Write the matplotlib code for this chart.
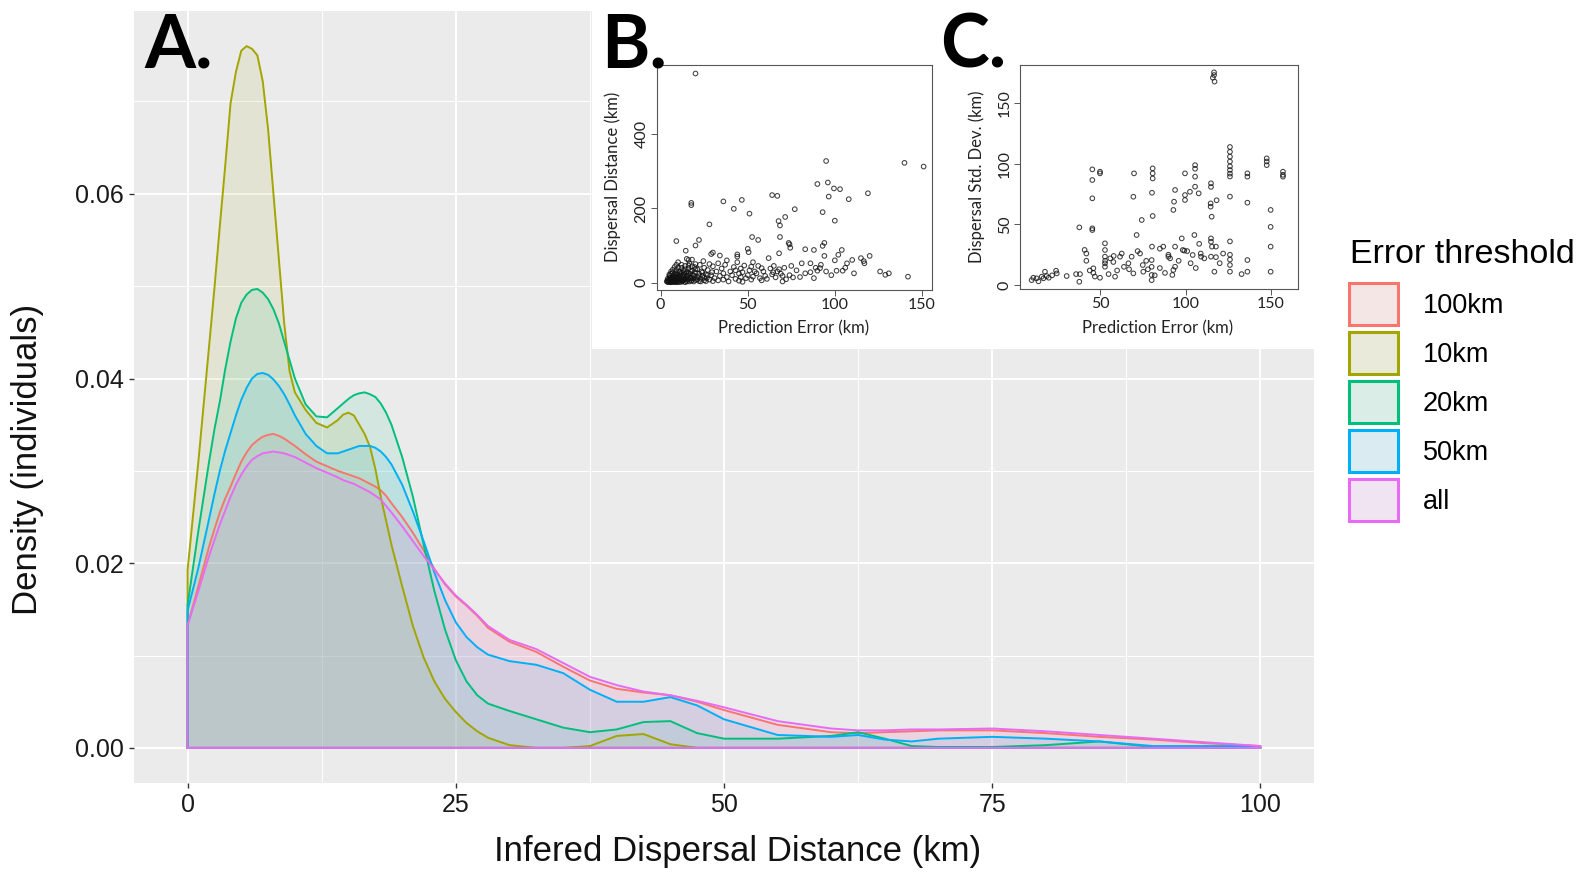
import matplotlib
matplotlib.use("Agg")
import matplotlib.pyplot as plt
import matplotlib.patches as mpatches
from matplotlib.ticker import FixedLocator, FormatStrFormatter

plt.rcParams['font.family'] = ['Liberation Sans', 'DejaVu Sans']

# ---- panel A: density of inferred dispersal distance per error threshold ----
dist_km = [0, 1, 2, 2.5, 3, 3.5, 4, 4.5, 5, 5.5, 6, 6.5, 7, 7.5, 8, 8.5, 9, 9.5,
           10, 11, 12, 13, 14, 14.5, 15, 15.5, 16, 16.5, 17, 17.5, 18, 18.5, 19,
           20, 21, 22, 23, 24, 25, 26, 27, 28, 30, 32.5, 35, 37.5, 40, 42.5, 45,
           47.5, 50, 55, 60, 62.5, 65, 67.5, 70, 75, 80, 85, 90, 95, 100]

dens_100km = [0.0133, 0.0175, 0.0218, 0.0237, 0.0255, 0.0270, 0.0283, 0.0297, 0.0310, 0.0320,
              0.0328, 0.0333, 0.0337, 0.0339, 0.0340, 0.0338, 0.0335, 0.0331,
              0.0327, 0.0318, 0.0310, 0.0305, 0.0300, 0.0298, 0.0296, 0.0294, 0.0292, 0.0289,
              0.0286, 0.0283, 0.0279, 0.0273, 0.0265,
              0.0250, 0.0233, 0.0214, 0.0194, 0.0177, 0.0164, 0.0154, 0.0143, 0.0130, 0.0115,
              0.0104, 0.0088, 0.0073, 0.0064, 0.0060, 0.0057, 0.0050, 0.0041, 0.0025, 0.0017,
              0.0016, 0.0017, 0.0018, 0.0019, 0.0019, 0.0016, 0.0012, 0.0009, 0.0005, 0.0002]
dens_10km = [0.0193, 0.0310, 0.0435, 0.0498, 0.0565, 0.0630, 0.0698, 0.0732, 0.0755, 0.0760,
             0.0757, 0.0750, 0.0722, 0.0670, 0.0600, 0.0530, 0.0460, 0.0408,
             0.0385, 0.0366, 0.0352, 0.0347, 0.0355, 0.0361, 0.0363, 0.0360, 0.0350, 0.0340,
             0.0326, 0.0302, 0.0272, 0.0246, 0.0220,
             0.0175, 0.0132, 0.0098, 0.0072, 0.0053, 0.0039, 0.0027, 0.0018, 0.0011, 0.0003,
             0.0, 0.0, 0.0002, 0.0013, 0.0015, 0.0004, 0.0, 0.0, 0.0, 0.0,
             0.0, 0.0, 0.0, 0.0, 0.0, 0.0, 0.0, 0.0, 0.0, 0.0]
dens_20km = [0.0155, 0.0235, 0.0310, 0.0345, 0.0375, 0.0410, 0.0440, 0.0465, 0.0482, 0.0491,
             0.0496, 0.0497, 0.0493, 0.0486, 0.0475, 0.0460, 0.0440, 0.0420,
             0.0400, 0.0372, 0.0359, 0.0358, 0.0368, 0.0373, 0.0378, 0.0382, 0.0384, 0.0385,
             0.0383, 0.0380, 0.0373, 0.0363, 0.0350,
             0.0315, 0.0272, 0.0220, 0.0170, 0.0128, 0.0095, 0.0072, 0.0057, 0.0048, 0.0040,
             0.0031, 0.0022, 0.0017, 0.0020, 0.0028, 0.0029, 0.0016, 0.0010, 0.0010, 0.0013,
             0.0017, 0.0010, 0.0002, 0.0001, 0.0001, 0.0003, 0.0007, 0.0001, 0.0, 0.0]
dens_50km = [0.0149, 0.0195, 0.0248, 0.0275, 0.0300, 0.0322, 0.0341, 0.0360, 0.0377, 0.0390,
             0.0400, 0.0405, 0.0406, 0.0404, 0.0399, 0.0392, 0.0383, 0.0372,
             0.0360, 0.0340, 0.0327, 0.0319, 0.0319, 0.0321, 0.0323, 0.0325, 0.0327, 0.0327,
             0.0327, 0.0325, 0.0321, 0.0315, 0.0307,
             0.0285, 0.0256, 0.0224, 0.0190, 0.0160, 0.0136, 0.0120, 0.0109, 0.0101, 0.0094,
             0.0090, 0.0081, 0.0063, 0.0050, 0.0050, 0.0055, 0.0046, 0.0031, 0.0014, 0.0012,
             0.0014, 0.0009, 0.0007, 0.0010, 0.0012, 0.0010, 0.0007, 0.0002, 0.0002, 0.0002]
dens_all = [0.0133, 0.0170, 0.0208, 0.0225, 0.0242, 0.0257, 0.0272, 0.0285, 0.0296, 0.0305,
            0.0312, 0.0316, 0.0319, 0.0320, 0.0321, 0.0320, 0.0319, 0.0317,
            0.0315, 0.0309, 0.0303, 0.0298, 0.0293, 0.0290, 0.0288, 0.0286, 0.0283, 0.0280,
            0.0277, 0.0273, 0.0269, 0.0262, 0.0255,
            0.0240, 0.0224, 0.0208, 0.0193, 0.0178, 0.0165, 0.0155, 0.0144, 0.0132, 0.0117,
            0.0107, 0.0092, 0.0077, 0.0068, 0.0061, 0.0057, 0.0051, 0.0044, 0.0029, 0.0021,
            0.0019, 0.0019, 0.0020, 0.0020, 0.0021, 0.0018, 0.0014, 0.0010, 0.0006, 0.0002]

thresholds = ['100km', '10km', '20km', '50km', 'all']
densities = [dens_100km, dens_10km, dens_20km, dens_50km, dens_all]
colors = ['#F8766D', '#A3A500', '#00BF7D', '#00B0F6', '#E76BF3']

# ---- panel B: dispersal distance vs prediction error ----
b_err = [20, 95, 140, 151, 90, 96, 99.5, 103, 96.5, 64, 67, 119, 108, 17.6, 17.6, 36, 46.6, 42, 51, 77,
         93, 100, 71.5, 67.7, 68.5, 28, 22, 20, 9, 52.5, 56, 68.5, 73.5, 74, 94, 93, 74.4, 68, 50, 50.5,
         83, 88, 104, 110, 115, 120, 116.6, 117, 107, 94, 62, 81, 86, 91.5, 90, 88, 101, 104.5, 111, 126,
         131, 129, 142, 64.6, 70, 76, 70, 58, 52, 44, 44, 29, 30, 34, 16, 14.4,
         4, 4.5, 5, 5, 5.5, 6, 6, 6.5, 7, 7, 7.5, 8, 8, 8.5, 9, 9, 9.5, 10, 10, 10.5,
         5, 6, 7, 8, 9, 11, 11, 11.5, 12, 12, 12.5, 13, 13, 13.5, 14, 14, 14.5, 15, 15, 15.5,
         16, 16, 16.5, 17, 17, 17.5, 18, 18, 18.5, 19, 19.5, 20, 20, 10, 12, 15, 21, 21, 22, 22,
         22.5, 23, 23.5, 24, 24.5, 25, 25, 26, 26.5, 27, 28, 28, 29, 29.5, 30, 30, 6, 7, 8, 9,
         31, 32, 33, 33, 34, 35, 36, 36, 37, 38, 38, 39, 40, 41, 42, 43, 43, 44, 45, 45,
         46, 46, 47, 47, 48, 49, 50, 51, 52, 53, 53, 54, 55, 56, 57, 58, 59, 60, 61, 63,
         64, 65, 66, 67, 68, 69, 71, 72, 74, 75, 78, 80, 83, 86, 89, 92, 95, 98, 100, 102, 106,
         4, 4.5, 5, 5.5, 6, 6.5, 7, 7.5, 8, 8.5, 9, 9.5, 10, 10.5, 11, 11.5, 12, 12.5, 13, 13.5,
         14, 14.5, 15, 15.5, 16, 16.5, 17, 17.5, 18, 18.5, 19, 19.5, 20, 21, 22, 23, 24, 25, 26, 27,
         5, 6, 7, 8, 9, 10, 11, 12, 13, 14, 16, 18, 20, 3.5, 4, 6, 8, 10, 12, 14]
b_disp = [564, 328, 323, 313, 266, 270, 254, 252, 232, 236, 234, 241, 225, 215, 209, 219, 223, 199, 186, 198,
          190, 167, 177, 166, 154, 157, 115, 100, 112, 123, 115, 123, 107, 103, 107, 99, 94, 79, 91, 82,
          90, 88, 88, 61, 66, 72, 58, 52, 52, 72, 66, 52, 52, 39, 32, 12, 32, 32, 25, 30,
          25, 21, 16, 28, 18, 14, 3, 39, 43, 76, 70, 77, 81, 73, 61, 86,
          2, 5, 8, 3, 12, 1, 6, 15, 4, 9, 20, 2, 11, 6, 16, 25, 3, 8, 13, 30,
          18, 24, 35, 42, 48, 2, 19, 7, 10, 26, 4, 15, 33, 8, 22, 45, 12, 3, 28, 18,
          9, 38, 52, 14, 24, 5, 32, 62, 11, 20, 42, 7, 27, 55, 40, 64, 15, 36, 4, 24,
          48, 10, 30, 18, 58, 6, 40, 22, 12, 34, 8, 50, 20, 28, 4, 44, 1, 3, 2, 5,
          12, 30, 6, 52, 18, 38, 8, 25, 48, 15, 60, 3, 30, 20, 42, 10, 33, 55, 5, 24,
          15, 38, 2, 28, 46, 12, 20, 33, 8, 55, 16, 30, 25, 45, 12, 6, 30, 18, 10, 38,
          22, 45, 14, 30, 36, 24, 40, 9, 20, 45, 33, 15, 25, 28, 40, 48, 30, 20, 60, 75, 40,
          10, 1, 14, 4, 9, 2, 13, 7, 17, 1, 10, 21, 4, 12, 9, 23, 2, 16, 6, 28,
          11, 5, 19, 9, 24, 3, 31, 12, 6, 20, 3, 14, 36, 9, 17, 3, 27, 13, 4, 20,
          22, 30, 27, 22, 34, 40, 28, 48, 21, 36, 46, 44, 50, 3, 6, 4, 5, 1, 6, 1]

# ---- panel C: dispersal std. dev. vs prediction error ----
c_err = [116.7, 116.7, 116, 117, 126, 126, 126, 126, 126, 126, 126, 126, 126, 126, 126, 126, 126, 126,
         147.5, 147.5, 147.5, 149.8, 149.8, 149.8, 149.8, 157, 157, 157, 136.2, 136.2, 136.2, 136.2, 136.2, 132.8,
         114.9, 114.9, 114.7, 114.7, 115.3, 114.9, 114.9, 115.5, 114.9, 116.9, 118.2, 117.8, 117.8,
         105.6, 105.6, 105.6, 105.6, 105.2, 104.2, 107.7, 99.7, 99.7, 99.7, 99.3, 93.9, 93.3, 92.9, 93.9,
         97.8, 98.4, 102.6, 108.9, 109.1, 92.3, 92.9, 93.9, 91, 90, 87,
         80.8, 80.8, 80.8, 80.4, 80.8, 80.4, 80.2, 80.2, 80.2, 80.2, 69.9, 69.5, 74.4, 71.4,
         50, 50, 45.5, 45.5, 45.5, 45.5, 45.5, 37.9, 46.1, 46.1, 52.9, 52.9, 52.9, 52.9, 52.9,
         10, 12.9, 15.9, 16.9, 18.8, 17.8, 24.3, 24.7, 30.5, 36, 38.3, 37.9, 11, 14, 20, 22,
         61.7, 62.7, 57.8, 58.8, 66.6, 68.5, 69.5, 73.4, 75, 75.3, 78, 82, 85, 88, 55, 60, 64, 42, 42, 44,
         47, 50, 56, 77, 72, 85, 90, 96, 101, 103, 108, 111, 106, 120, 122, 41, 53, 58, 67]
c_sd = [175.6, 173.4, 171.2, 168, 114, 110, 106, 102, 98, 95, 92, 89.6, 73, 36, 25, 21, 16.5, 11,
        104.6, 102, 99, 62, 48, 31.7, 11, 93.6, 91, 89.5, 92.2, 89.5, 68, 20.6, 11, 9,
        84, 81, 67.4, 64.7, 56.4, 38.5, 35.8, 31.7, 23.4, 11, 70, 31.7, 23,
        99, 96, 89.5, 81.2, 41.3, 24.8, 75.7, 92.2, 74.3, 70.2, 28.4, 78.5, 68.8, 62, 31.7,
        38.5, 28.9, 77, 26, 23.4, 8.3, 12.4, 15.1, 22, 23.4, 31.7,
        96.3, 92.2, 88, 76.2, 57, 31.7, 20.6, 15, 8.3, 4, 92.2, 72.9, 53.7, 41.3,
        93.6, 92.2, 95.5, 86.7, 71.6, 46.8, 45.4, 47.6, 13.8, 10, 34.4, 28.9, 23.4, 17.9, 15.1,
        4, 5.5, 6.9, 5.5, 7.4, 11, 11.8, 9.6, 7.4, 9, 9, 2.7, 6, 3, 6, 8,
        23.4, 26, 19, 6.9, 17.9, 23.4, 9.6, 26, 16.5, 11, 13, 8, 14, 10, 9, 12, 15, 26, 20, 12,
        7, 6, 22, 20, 28, 30, 25, 20, 28, 18, 34, 22, 14, 18, 26, 29, 20, 24, 13]

W, H = 1583, 873


def fx(px):
    return px / W


def fy(py):
    return 1 - py / H


def blend(c, a, bg=(0.949, 0.949, 0.949)):
    rgb = matplotlib.colors.to_rgb(c)
    return tuple(a * v + (1 - a) * b for v, b in zip(rgb, bg))


fig = plt.figure(figsize=(W / 100, H / 100), dpi=100)
ax = fig.add_axes([fx(134), fy(783), fx(1314) - fx(134), fy(11) - fy(783)])
ax.set_facecolor('#EBEBEB')
for s in ax.spines.values():
    s.set_visible(False)

for name, dens, col in zip(thresholds, densities, colors):
    ax.fill_between(dist_km, 0, dens, color=col, alpha=0.1, linewidth=0, zorder=2)
    xs = [dist_km[0]] + dist_km + [dist_km[-1], dist_km[0]]
    ys = [0] + dens + [0, 0]
    ax.plot(xs, ys, color=col, lw=1.4, zorder=3, solid_joinstyle='round')

ax.set_xlim(-5, 105)
ax.set_ylim(-0.0038, 0.0798)
ax.xaxis.set_major_locator(FixedLocator([0, 25, 50, 75, 100]))
ax.xaxis.set_minor_locator(FixedLocator([12.5, 37.5, 62.5, 87.5]))
ax.yaxis.set_major_locator(FixedLocator([0, 0.02, 0.04, 0.06]))
ax.yaxis.set_minor_locator(FixedLocator([0.01, 0.03, 0.05, 0.07]))
ax.yaxis.set_major_formatter(FormatStrFormatter('%.2f'))
ax.grid(which='major', color='white', lw=1.4, zorder=0)
ax.grid(which='minor', color='white', lw=0.7, zorder=0)
ax.set_axisbelow(True)
ax.tick_params(which='major', length=3.5, width=1.0, color='#333333', labelsize=18,
               labelcolor='#1a1a1a', pad=4)
ax.tick_params(which='minor', length=0)

fig.text(fx(28), fy(459), 'Density (individuals)', rotation=90, fontsize=25,
         ha='center', va='center', color='#111111')
fig.text(fx(738), fy(852), 'Infered Dispersal Distance (km)', fontsize=25,
         ha='center', va='center', color='#111111')
fig.text(fx(144), fy(68), 'A.', fontsize=53, fontweight='bold', family=['Lato', 'DejaVu Sans'],
         ha='left', va='baseline')

# legend
fig.text(fx(1350), fy(254), 'Error threshold', fontsize=24.5, ha='left', va='center')
handles = [mpatches.Patch(facecolor=blend(c, 0.1), edgecolor=c, linewidth=2.2) for c in colors]
fig.legend(handles, thresholds, loc='upper left', bbox_to_anchor=(fx(1349), fy(283.5)),
           frameon=False, fontsize=19.5, handlelength=1.81, handleheight=2.0,
           labelspacing=0.26, handletextpad=0.92, borderpad=0, borderaxespad=0)

# white backing for the insets
fig.patches.append(mpatches.Rectangle((fx(592), fy(349)), fx(1316) - fx(592), 1 - fy(349),
                                      transform=fig.transFigure, facecolor='white',
                                      edgecolor='none', zorder=1))

inset_font = ['Lato', 'DejaVu Sans']


def style_inset(a):
    for s in a.spines.values():
        s.set_color('#555555')
        s.set_linewidth(0.8)
    a.tick_params(direction='out', length=4, width=0.7, color='#555555', labelsize=11.5,
                  labelcolor='#222222', pad=2)
    for lab in a.get_xticklabels() + a.get_yticklabels():
        lab.set_family(inset_font)
    for lab in a.get_yticklabels():
        lab.set_rotation(90)
        lab.set_va('center')


axb = fig.add_axes([fx(657), fy(290), fx(932) - fx(657), fy(65) - fy(290)], zorder=2)
axb.scatter(b_err, b_disp, s=11, facecolors='none', edgecolors='#111111', linewidths=0.75, alpha=0.8)
axb.set_xlim(-2.1, 155.8)
axb.set_ylim(-20, 587)
axb.set_xticks([0, 50, 100, 150])
axb.set_yticks([0, 200, 400])
style_inset(axb)
fig.text(fx(794), fy(328), 'Prediction Error (km)', fontsize=12, family=inset_font,
         ha='center', va='center', color='#222222')
fig.text(fx(613), fy(177), 'Dispersal Distance (km)', fontsize=12, family=inset_font,
         rotation=90, ha='center', va='center', color='#222222')
fig.text(fx(601), fy(67), 'B.', fontsize=53, fontweight='bold', family=inset_font,
         ha='left', va='baseline')

axc = fig.add_axes([fx(1020), fy(289), fx(1298) - fx(1020), fy(65) - fy(289)], zorder=2)
axc.scatter(c_err, c_sd, s=11, facecolors='none', edgecolors='#111111', linewidths=0.75, alpha=0.8)
axc.set_xlim(3.2, 165.8)
axc.set_ylim(-3.3, 181.7)
axc.set_xticks([50, 100, 150])
axc.set_yticks([0, 50, 100, 150])
style_inset(axc)
fig.text(fx(1158), fy(328), 'Prediction Error (km)', fontsize=12, family=inset_font,
         ha='center', va='center', color='#222222')
fig.text(fx(977), fy(177), 'Dispersal Std. Dev. (km)', fontsize=12, family=inset_font,
         rotation=90, ha='center', va='center', color='#222222')
fig.text(fx(940), fy(68), 'C.', fontsize=53, fontweight='bold', family=inset_font,
         ha='left', va='baseline')

fig.savefig('out.png', dpi=100)
